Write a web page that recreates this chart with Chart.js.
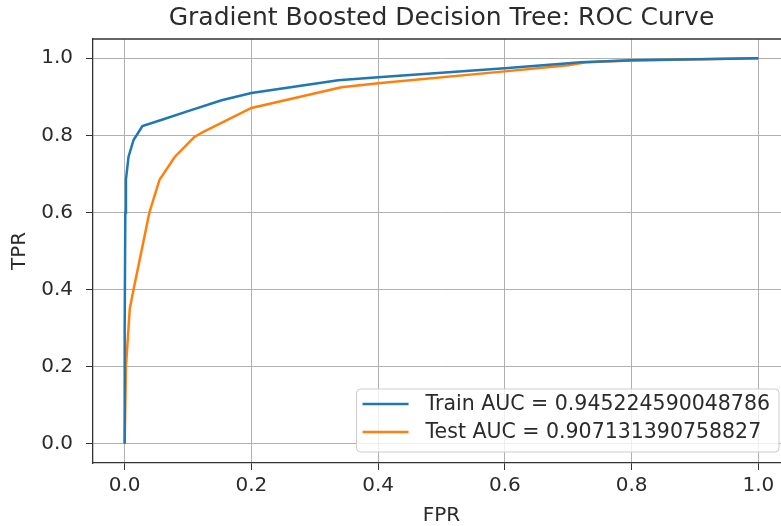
<!DOCTYPE html>
<html>
<head>
<meta charset="utf-8">
<script src="https://cdn.jsdelivr.net/npm/chart.js"></script>
<style>
html,body{margin:0;padding:0;background:#fff;overflow:hidden;}
#wrap{width:883px;height:526px;}
</style>
</head>
<body>
<div id="wrap"><canvas id="chart" width="883" height="526"></canvas></div>
<script>
// ROC points
const trainFpr = [0, 0.0, 0.001, 0.002, 0.006, 0.014, 0.028, 0.06, 0.1, 0.153, 0.2, 0.337, 0.4, 0.6, 0.7, 0.72, 0.8, 1.0];
const trainTpr = [0, 0.3, 0.6, 0.685, 0.744, 0.788, 0.824, 0.841, 0.863, 0.891, 0.91, 0.943, 0.951, 0.974, 0.987, 0.99, 0.995, 1.0];
const testFpr = [0, 0.002, 0.008, 0.014, 0.027, 0.039, 0.055, 0.079, 0.11, 0.125, 0.2, 0.342, 0.4, 0.6, 0.7, 0.73, 0.8, 1.0];
const testTpr = [0, 0.2, 0.35, 0.40, 0.504, 0.6, 0.685, 0.744, 0.796, 0.81, 0.871, 0.925, 0.935, 0.966, 0.982, 0.99, 0.994, 1.0];
const seriesLabels = ["Train AUC = 0.945224590048786", "Test AUC = 0.907131390758827"];
const tickValues = [0, 0.2, 0.4, 0.6, 0.8, 1.0];

const FONT = "'DejaVu Sans', sans-serif";
const TEXT = "#2b2b2b";

function pts(xs, ys){
  return xs.map((x, i) => ({x: x, y: ys[i]}));
}

// top spine (chart.js only draws the axis borders)
const frame = {
  id: "frame",
  afterDraw(chart){
    const a = chart.chartArea, ctx = chart.ctx;
    ctx.save();
    ctx.strokeStyle = "#333";
    ctx.lineWidth = 1.3;
    ctx.beginPath();
    ctx.moveTo(a.left, a.top);
    ctx.lineTo(a.right, a.top);
    ctx.stroke();
    ctx.restore();
  }
};

// matplotlib-like legend inside the axes, lower right
const innerLegend = {
  id: "innerLegend",
  afterDatasetsDraw(chart){
    const ctx = chart.ctx;
    const area = chart.chartArea;
    const sets = chart.data.datasets;
    ctx.save();
    ctx.font = "20.5px " + FONT;
    let tw = 0;
    sets.forEach(d => { tw = Math.max(tw, ctx.measureText(d.label).width); });
    const rowH = 28;
    const w = 6 + 46 + 17 + tw + 9;
    const h = sets.length * rowH + 7;
    const right = area.right - 11;
    const bottom = area.bottom - 11;
    const left = right - w;
    const top = bottom - h;
    ctx.beginPath();
    ctx.roundRect(left, top, w, h, 4);
    ctx.fillStyle = "rgba(255,255,255,0.8)";
    ctx.fill();
    ctx.strokeStyle = "#cccccc";
    ctx.lineWidth = 1;
    ctx.stroke();
    sets.forEach((d, i) => {
      const y = top + 15 + i * rowH;
      ctx.beginPath();
      ctx.moveTo(left + 6, y);
      ctx.lineTo(left + 52, y);
      ctx.strokeStyle = d.borderColor;
      ctx.lineWidth = 2.5;
      ctx.stroke();
      ctx.fillStyle = TEXT;
      ctx.textBaseline = "middle";
      ctx.textAlign = "left";
      ctx.fillText(d.label, left + 69, y + 1);
    });
    ctx.restore();
  }
};

function fixTicks(scale){
  scale.ticks = tickValues.map(v => ({value: v}));
}

new Chart(document.getElementById("chart"), {
  type: "line",
  data: {
    datasets: [
      {label: seriesLabels[0], data: pts(trainFpr, trainTpr), borderColor: "#1f77b4", borderWidth: 2.5, pointRadius: 0, tension: 0, fill: false},
      {label: seriesLabels[1], data: pts(testFpr, testTpr), borderColor: "#ff7f0e", borderWidth: 2.5, pointRadius: 0, tension: 0, fill: false}
    ]
  },
  options: {
    responsive: false,
    animation: false,
    layout: {padding: 0},
    plugins: {
      legend: {display: false},
      tooltip: {enabled: false},
      title: {
        display: true,
        text: "Gradient Boosted Decision Tree: ROC Curve",
        color: TEXT,
        font: {family: FONT, size: 25, weight: "normal"},
        padding: {top: 3, bottom: 6}
      }
    },
    scales: {
      x: {
        type: "linear",
        min: -0.05,
        max: 1.05,
        afterBuildTicks: fixTicks,
        afterFit(s){ s.height = 63; },
        grid: {color: "#b0b0b0", lineWidth: 1, tickLength: 7, tickColor: "#333"},
        border: {color: "#333", width: 1.3},
        ticks: {color: TEXT, font: {family: FONT, size: 20}, padding: 4, maxRotation: 0, callback: v => v.toFixed(1)},
        title: {display: true, text: "FPR", color: TEXT, font: {family: FONT, size: 20}, padding: {top: 0, bottom: -2}}
      },
      y: {
        type: "linear",
        min: -0.05,
        max: 1.05,
        afterBuildTicks: fixTicks,
        afterFit(s){ s.width = 93; },
        grid: {color: "#b0b0b0", lineWidth: 1, tickLength: 7, tickColor: "#333"},
        border: {color: "#333", width: 1.3},
        ticks: {color: TEXT, font: {family: FONT, size: 20}, padding: 13, callback: v => v.toFixed(1)},
        title: {display: true, text: "TPR", color: TEXT, font: {family: FONT, size: 20}, padding: {top: 8, bottom: 0}}
      },
      // right spine; keeps the axes centred under the title like matplotlib
      yRight: {
        type: "linear",
        position: "right",
        min: -0.05,
        max: 1.05,
        afterFit(s){ s.width = 93; },
        grid: {display: false},
        border: {color: "#333", width: 1.3},
        ticks: {display: false}
      }
    }
  },
  plugins: [frame, innerLegend]
});
</script>
</body>
</html>
